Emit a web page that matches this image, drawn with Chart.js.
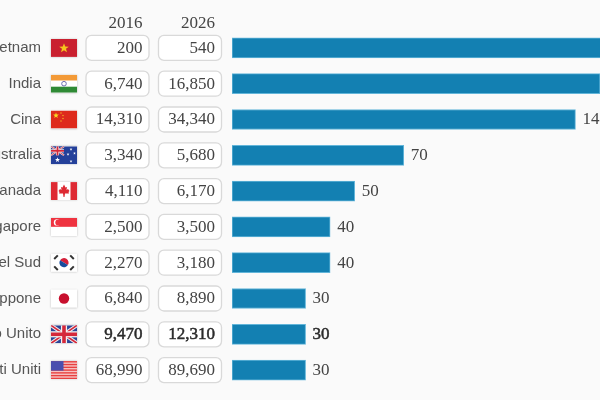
<!DOCTYPE html>
<html>
<head>
<meta charset="utf-8">
<style>
  html, body { margin: 0; padding: 0; background: #fafafa; overflow: hidden; }
  #wrap { width: 600px; height: 400px; }
</style>
<script src="https://cdn.jsdelivr.net/npm/chart.js@4"></script>
</head>
<body>
<div id="wrap"><canvas id="chart" width="600" height="400"></canvas></div>
<script>
const countries = ['Vietnam', 'India', 'Cina', 'Australia', 'Canada', 'Singapore', 'Corea del Sud', 'Giappone', 'Regno Unito', 'Stati Uniti'];
const years = ['2016', '2026'];
const values2016 = ['200', '6,740', '14,310', '3,340', '4,110', '2,500', '2,270', '6,840', '9,470', '68,990'];
const values2026 = ['540', '16,850', '34,340', '5,680', '6,170', '3,500', '3,180', '8,890', '12,310', '89,690'];
const growth = [170, 150, 140, 70, 50, 40, 40, 30, 30, 30];
const boldCountry = 'Regno Unito';

const SERIF = '"Liberation Serif", serif';
const SANS = '"Liberation Sans", sans-serif';
const FLAG_W = 26, FLAG_H = 18;

function star(ctx, cx, cy, r, color, rot) {
  ctx.fillStyle = color;
  ctx.beginPath();
  for (let i = 0; i < 10; i++) {
    const a = -Math.PI / 2 + (rot || 0) + i * Math.PI / 5;
    const rr = i % 2 ? r * 0.42 : r;
    ctx.lineTo(cx + Math.cos(a) * rr, cy + Math.sin(a) * rr);
  }
  ctx.closePath();
  ctx.fill();
}

function rect(ctx, x, y, w, h, color) {
  ctx.fillStyle = color;
  ctx.fillRect(x, y, w, h);
}

function line(ctx, x1, y1, x2, y2, color, width) {
  ctx.strokeStyle = color;
  ctx.lineWidth = width;
  ctx.beginPath();
  ctx.moveTo(x1, y1);
  ctx.lineTo(x2, y2);
  ctx.stroke();
}

function unionJack(ctx, w, h) {
  rect(ctx, 0, 0, w, h, '#2c4596');
  line(ctx, 0, 0, w, h, '#f2f2f2', h * 0.2);
  line(ctx, w, 0, 0, h, '#f2f2f2', h * 0.2);
  line(ctx, 0, 0, w, h, '#d5283a', h * 0.09);
  line(ctx, w, 0, 0, h, '#d5283a', h * 0.09);
  rect(ctx, w / 2 - h * 0.17, 0, h * 0.34, h, '#f2f2f2');
  rect(ctx, 0, h * 0.33, w, h * 0.34, '#f2f2f2');
  rect(ctx, w / 2 - h * 0.1, 0, h * 0.2, h, '#d5283a');
  rect(ctx, 0, h * 0.4, w, h * 0.2, '#d5283a');
}

const flags = {
  'Vietnam': ctx => {
    rect(ctx, 0, 0, 26, 18, '#c9202f');
    star(ctx, 13, 9.3, 5, '#f6c51c');
  },
  'India': ctx => {
    rect(ctx, 0, 0, 26, 6, '#f39a37');
    rect(ctx, 0, 6, 26, 6, '#ffffff');
    rect(ctx, 0, 12, 26, 6, '#2f8a35');
    ctx.strokeStyle = '#6d6db0';
    ctx.lineWidth = 1;
    ctx.beginPath();
    ctx.arc(13, 9, 2.3, 0, Math.PI * 2);
    ctx.stroke();
  },
  'Cina': ctx => {
    rect(ctx, 0, 0, 26, 18, '#de2a1c');
    star(ctx, 5, 5, 3, '#f8d824');
    star(ctx, 10, 2.5, 1, '#f8d824');
    star(ctx, 12, 5, 1, '#f8d824');
    star(ctx, 12, 8, 1, '#f8d824');
    star(ctx, 10, 10.5, 1, '#f8d824');
  },
  'Australia': ctx => {
    rect(ctx, 0, 0, 26, 18, '#24409a');
    unionJack(ctx, 13, 9);
    star(ctx, 6.5, 13.5, 2.6, '#ffffff');
    star(ctx, 20, 3, 1.4, '#ffffff');
    star(ctx, 17, 8, 1.4, '#ffffff');
    star(ctx, 23.5, 7, 1.4, '#ffffff');
    star(ctx, 20, 15, 1.4, '#ffffff');
  },
  'Canada': ctx => {
    rect(ctx, 0, 0, 26, 18, '#ffffff');
    rect(ctx, 0, 0, 6.5, 18, '#de2a33');
    rect(ctx, 19.5, 0, 6.5, 18, '#de2a33');
    // rough maple leaf
    ctx.fillStyle = '#de2a33';
    ctx.beginPath();
    [[13, 2.5], [14.5, 5.5], [16, 4.8], [15.5, 8], [17, 7], [18.5, 9], [17.5, 9.8], [18, 11.5], [14, 11.5], [13.5, 15], [12.5, 15], [12, 11.5], [8, 11.5], [8.5, 9.8], [7.5, 9], [9, 7], [10.5, 8], [10, 4.8], [11.5, 5.5]].forEach(p => ctx.lineTo(p[0], p[1]));
    ctx.closePath();
    ctx.fill();
  },
  'Singapore': ctx => {
    rect(ctx, 0, 0, 26, 9, '#ef3340');
    rect(ctx, 0, 9, 26, 9, '#ffffff');
    ctx.fillStyle = '#ffffff';
    ctx.beginPath();
    ctx.arc(6, 4.5, 3.2, 0, Math.PI * 2);
    ctx.fill();
    ctx.fillStyle = '#ef3340';
    ctx.beginPath();
    ctx.arc(7.3, 4.5, 3, 0, Math.PI * 2);
    ctx.fill();
  },
  'Corea del Sud': ctx => {
    rect(ctx, 0, 0, 26, 18, '#ffffff');
    ctx.save();
    ctx.translate(13, 9);
    ctx.rotate(0.55);
    ctx.fillStyle = '#d4203a';
    ctx.beginPath();
    ctx.arc(0, 0, 4.6, Math.PI, 0);
    ctx.fill();
    ctx.fillStyle = '#164b9c';
    ctx.beginPath();
    ctx.arc(0, 0, 4.6, 0, Math.PI);
    ctx.fill();
    ctx.restore();
    [[5, 3.5], [21, 3.5], [5, 14.5], [21, 14.5]].forEach(p => {
      const d = (p[0] < 13) === (p[1] < 9) ? 1.8 : -1.8;
      line(ctx, p[0] - 1.8, p[1] + d, p[0] + 1.8, p[1] - d, '#333333', 2);
    });
  },
  'Giappone': ctx => {
    rect(ctx, 0, 0, 26, 18, '#ffffff');
    ctx.fillStyle = '#c8102e';
    ctx.beginPath();
    ctx.arc(13, 9, 5.2, 0, Math.PI * 2);
    ctx.fill();
  },
  'Regno Unito': ctx => {
    unionJack(ctx, 26, 18);
  },
  'Stati Uniti': ctx => {
    rect(ctx, 0, 0, 26, 18, '#f6c3c3');
    for (let i = 0; i < 7; i++) rect(ctx, 0, i * 18 / 6.5, 26, 18 / 13, '#e8403f');
    rect(ctx, 0, 0, 12.5, 9.5, '#4a4fae');
  }
};

function roundBox(ctx, x, y, w, h, r) {
  ctx.beginPath();
  ctx.roundRect(x, y, w, h, r);
  ctx.fillStyle = '#ffffff';
  ctx.fill();
  ctx.strokeStyle = '#d9d9d9';
  ctx.lineWidth = 1.3;
  ctx.stroke();
}

// the reference weight is between regular and bold, so thicken regular a bit
function numText(ctx, text, x, y, bold) {
  ctx.fillText(text, x, y);
  if (bold) {
    ctx.strokeStyle = ctx.fillStyle;
    ctx.lineWidth = 0.5;
    ctx.strokeText(text, x, y);
  }
}

// country names, table columns, flags and the labels after the bars
const tablePlugin = {
  id: 'tablePlugin',
  afterDraw(chart) {
    const ctx = chart.ctx;
    const yScale = chart.scales.y;
    const bars = chart.getDatasetMeta(0).data;
    ctx.save();
    ctx.textBaseline = 'middle';
    ctx.textAlign = 'right';
    ctx.fillStyle = '#444444';
    ctx.font = '17px ' + SERIF;
    ctx.fillText(years[0], 142.5, 24);
    ctx.fillText(years[1], 215, 24);

    countries.forEach((name, i) => {
      const y = yScale.getPixelForValue(i);
      const bold = name === boldCountry;

      ctx.textAlign = 'right';
      ctx.fillStyle = '#555555';
      ctx.font = '15px ' + SANS;
      ctx.fillText(name, 41, y);

      ctx.save();
      ctx.shadowColor = 'rgba(0,0,0,0.25)';
      ctx.shadowBlur = 2;
      rect(ctx, 51, y - FLAG_H / 2, FLAG_W, FLAG_H, '#ffffff');
      ctx.restore();
      ctx.save();
      ctx.beginPath();
      ctx.rect(51, y - FLAG_H / 2, FLAG_W, FLAG_H);
      ctx.clip();
      ctx.translate(51, y - FLAG_H / 2);
      flags[name](ctx);
      ctx.restore();

      roundBox(ctx, 86, y - 12.5, 63, 25, 5.5);
      roundBox(ctx, 158.5, y - 12.5, 63, 25, 5.5);

      ctx.textAlign = 'right';
      ctx.fillStyle = bold ? '#2b2b2b' : '#444444';
      ctx.font = '17px ' + SERIF;
      numText(ctx, values2016[i], 142.5, y + 0.5, bold);
      numText(ctx, values2026[i], 215, y + 0.5, bold);

      ctx.textAlign = 'left';
      numText(ctx, String(growth[i]), bars[i].x + 7, y + 0.5, bold);
    });
    ctx.restore();
  }
};

new Chart(document.getElementById('chart'), {
  type: 'bar',
  data: {
    labels: countries,
    datasets: [{
      data: growth,
      backgroundColor: '#1380b2',
      borderColor: '#62b5d9',
      borderWidth: 1,
      borderSkipped: false,
      barThickness: 20
    }]
  },
  options: {
    indexAxis: 'y',
    responsive: false,
    animation: false,
    layout: { padding: { top: 30, bottom: 12, left: 0, right: 0 } },
    plugins: { legend: { display: false }, tooltip: { enabled: false } },
    scales: {
      x: { display: false, min: 0, max: 150 },
      y: {
        afterFit: s => { s.width = 232; },
        grid: { display: false, drawTicks: false },
        border: { display: false },
        ticks: { display: false }
      }
    }
  },
  plugins: [tablePlugin]
});
</script>
</body>
</html>
